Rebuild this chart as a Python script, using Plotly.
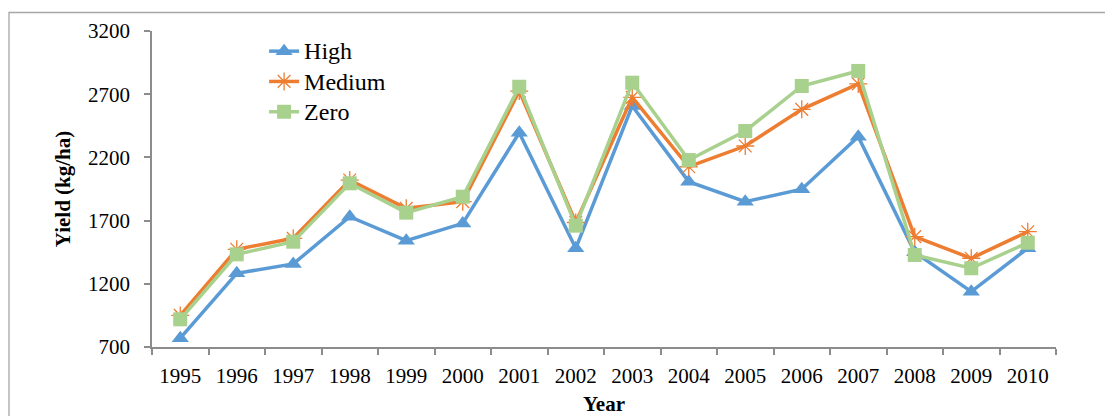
import plotly.graph_objects as go

# Yield by year for three treatment levels
years = ["1995", "1996", "1997", "1998", "1999", "2000", "2001", "2002",
         "2003", "2004", "2005", "2006", "2007", "2008", "2009", "2010"]
high = [770, 1283, 1357, 1731, 1541, 1678, 2395, 1481,
        2607, 2008, 1850, 1948, 2364, 1450, 1138, 1481]
medium = [950, 1473, 1560, 2021, 1797, 1850, 2725, 1685,
          2675, 2126, 2290, 2580, 2781, 1573, 1402, 1612]
zero = [919, 1433, 1533, 1995, 1763, 1889, 2759, 1660,
        2791, 2179, 2409, 2765, 2884, 1428, 1323, 1525]
series_names = ["High", "Medium", "Zero"]
y_ticks = [700, 1200, 1700, 2200, 2700, 3200]

FONT = "Liberation Serif"
AXIS_GREY = "#8c8c8c"


def serif(size, color="black"):
    return dict(family=FONT, size=size, color=color)


def legend_label(name):
    # slightly larger glyphs than the row pitch would normally allow
    return f"<span style='font-size:24px'>{name}</span>"


fig = go.Figure()
fig.add_trace(go.Scatter(
    x=years, y=high, name=legend_label(series_names[0]), mode="lines+markers",
    line=dict(color="#5B9BD5", width=3.5),
    marker=dict(symbol="triangle-up", size=15, color="#5B9BD5"),
))
fig.add_trace(go.Scatter(
    x=years, y=medium, name=legend_label(series_names[1]), mode="lines+markers",
    line=dict(color="#ED7D31", width=3.5),
    marker=dict(symbol="asterisk-open", size=15, color="#ED7D31",
                line=dict(color="#ED7D31", width=1.3)),
))
fig.add_trace(go.Scatter(
    x=years, y=zero, name=legend_label(series_names[2]), mode="lines+markers",
    line=dict(color="#A9D18E", width=3.5),
    marker=dict(symbol="square", size=14, color="#A9D18E"),
))

fig.update_layout(
    width=1105, height=416,
    margin=dict(l=152, r=49, t=31, b=69),
    paper_bgcolor="white", plot_bgcolor="white",
    font=serif(21),
    showlegend=True,
    legend=dict(x=0.124, y=1.0, xanchor="left", yanchor="top",
                bgcolor="rgba(0,0,0,0)", font=serif(21),
                tracegroupgap=0, itemwidth=30),
    xaxis=dict(
        type="category", range=[-0.5, len(years) - 0.5], automargin=False,
        showgrid=False, zeroline=False,
        showline=True, linecolor=AXIS_GREY, linewidth=1.5,
        ticks="outside", tickson="boundaries", ticklen=6,
        tickcolor=AXIS_GREY, tickwidth=1.5,
        tickfont=serif(21), ticklabelstandoff=9,
        title=dict(text="<b>Year</b>", font=serif(21), standoff=9),
    ),
    yaxis=dict(
        range=[700, 3200], tickvals=y_ticks, automargin=False,
        showgrid=False, zeroline=False,
        showline=True, linecolor=AXIS_GREY, linewidth=1.5,
        ticks="outside", ticklen=6, tickcolor=AXIS_GREY, tickwidth=1.5,
        tickfont=serif(21), ticklabelstandoff=10,
        title=dict(text="<b>Yield (kg/ha)</b>", font=serif(21), standoff=12),
    ),
)

# Outer chart frame (continues past the right and bottom edges)
fig.add_shape(type="rect", xref="paper", yref="paper",
              x0=(9 - 152) / 904, x1=(1115 - 152) / 904,
              y0=(347 - 425) / 316, y1=(347 - 12.5) / 316,
              line=dict(color="#a6a6a6", width=1.3), fillcolor="rgba(0,0,0,0)",
              layer="below")

fig.write_html("out.html")
